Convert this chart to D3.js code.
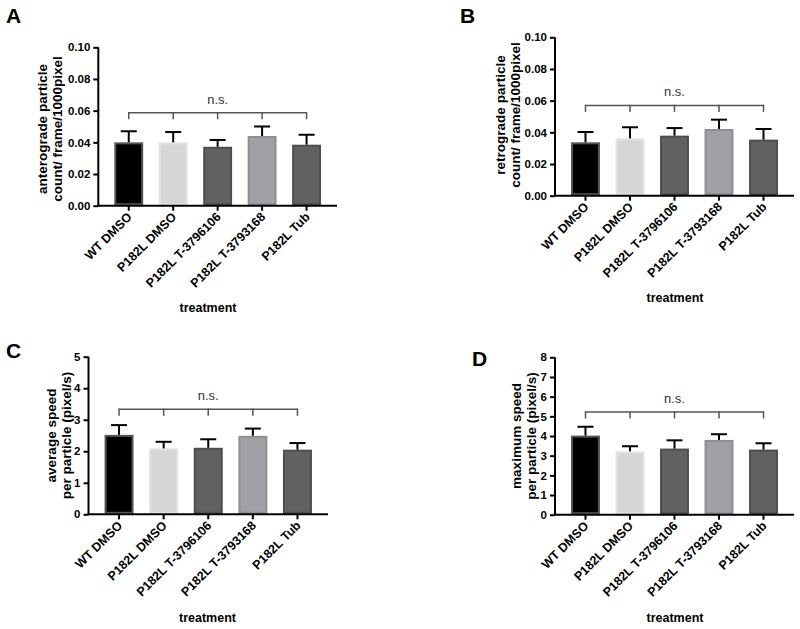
<!DOCTYPE html>
<html>
<head>
<meta charset="utf-8">
<script src="https://cdn.jsdelivr.net/npm/d3@7"></script>
<style>
  body { margin: 0; background: #fff; }
  svg { display: block; font-family: Arial, "Liberation Sans", Helvetica, sans-serif; }
</style>
</head>
<body>
<svg id="chart" width="800" height="629"></svg>
<script>
// ---------------- data ----------------
const categories = ["WT DMSO", "P182L DMSO", "P182L T-3796106", "P182L T-3793168", "P182L Tub"];

const anterogradeMean = [0.0400, 0.0400, 0.0372, 0.0440, 0.0385];
const anterogradeErr  = [0.0070, 0.0065, 0.0043, 0.0060, 0.0063];

const retrogradeMean  = [0.0337, 0.0362, 0.0379, 0.0421, 0.0354];
const retrogradeErr   = [0.0065, 0.0070, 0.0048, 0.0059, 0.0067];

const avgSpeedMean    = [2.52, 2.09, 2.11, 2.49, 2.05];
const avgSpeedErr     = [0.31, 0.21, 0.27, 0.23, 0.21];

const maxSpeedMean    = [4.02, 3.22, 3.36, 3.80, 3.31];
const maxSpeedErr     = [0.45, 0.26, 0.42, 0.29, 0.32];

const countTicks = [0, 0.02, 0.04, 0.06, 0.08, 0.10];
const avgTicks   = [0, 1, 2, 3, 4, 5];
const maxTicks   = [0, 1, 2, 3, 4, 5, 6, 7, 8];

const bracketLevels = [0.0587, 0.0570, 3.33, 5.22];
const sigLabel = "n.s.";
const xAxisTitle = "treatment";

// ---------------- styles ----------------
const barFill   = ["#000000", "#d6d6d6", "#616161", "#a0a0a5", "#616161"];
const barStroke = ["#555555", "#e2e2e2", "#4e4e4e", "#8e8e93", "#4e4e4e"];

const panels = [
  { letter: "A", lx: 6, ly: 23, x0: 98.3, x1: 337, yTop: 47.3, yBot: 205.7, domain: [0, 0.1],
    ticks: countTicks, fmt: d3.format(".2f"), mean: anterogradeMean, err: anterogradeErr,
    ylab: ["anterograde particle", "count/ frame/1000pixel"], yl1: -51, yl2: -36, ym: 129,
    bracket: bracketLevels[0], tx: 208, ty: 312 },
  { letter: "B", lx: 460, ly: 23, x0: 555, x1: 794, yTop: 37.3, yBot: 195.7, domain: [0, 0.1],
    ticks: countTicks, fmt: d3.format(".2f"), mean: retrogradeMean, err: retrogradeErr,
    ylab: ["retrograde particle", "count/ frame/1000pixel"], yl1: -50, yl2: -35, ym: 115,
    bracket: bracketLevels[1], tx: 675, ty: 302 },
  { letter: "C", lx: 6, ly: 358, x0: 88.5, x1: 328, yTop: 356.7, yBot: 514.3, domain: [0, 5],
    ticks: avgTicks, fmt: d3.format("d"), mean: avgSpeedMean, err: avgSpeedErr,
    ylab: ["average speed", "per particle (pixel/s)"], yl1: -33, yl2: -18, ym: 435.5,
    bracket: bracketLevels[2], tx: 207.5, ty: 622 },
  { letter: "D", lx: 472, ly: 366, x0: 555, x1: 794, yTop: 357.3, yBot: 514.7, domain: [0, 8],
    ticks: maxTicks, fmt: d3.format("d"), mean: maxSpeedMean, err: maxSpeedErr,
    ylab: ["maximum speed", "per particle (pixel/s)"], yl1: -34, yl2: -19, ym: 436,
    bracket: bracketLevels[3], tx: 675, ty: 622 }
];

const svg = d3.select("#chart");

panels.forEach(p => {
  const g = svg.append("g");

  const x = d3.scaleBand().domain(categories).range([p.x0, p.x1])
    .paddingInner(0.35).paddingOuter(0.36);
  const y = d3.scaleLinear().domain(p.domain).range([p.yBot, p.yTop]);

  const rows = categories.map((c, i) => ({ c, i, m: p.mean[i], e: p.err[i] }));

  // panel letter
  g.append("text").attr("x", p.lx).attr("y", p.ly)
    .attr("font-size", 21).attr("font-weight", "bold").attr("fill", "#000").text(p.letter);

  // bars
  g.selectAll("rect.bar").data(rows).enter().append("rect")
    .attr("class", "bar")
    .attr("x", d => x(d.c) + 1)
    .attr("width", x.bandwidth() - 2)
    .attr("y", d => y(d.m) + 1)
    .attr("height", d => y(0) - y(d.m) - 2.5)
    .attr("fill", d => barFill[d.i])
    .attr("stroke", d => barStroke[d.i])
    .attr("stroke-width", 2);

  // error bars (upper only)
  const cap = 8;
  g.selectAll("line.err").data(rows).enter().append("line")
    .attr("x1", d => x(d.c) + x.bandwidth() / 2)
    .attr("x2", d => x(d.c) + x.bandwidth() / 2)
    .attr("y1", d => y(d.m))
    .attr("y2", d => y(d.m + d.e))
    .attr("stroke", "#000").attr("stroke-width", 2);
  g.selectAll("line.cap").data(rows).enter().append("line")
    .attr("x1", d => x(d.c) + x.bandwidth() / 2 - cap)
    .attr("x2", d => x(d.c) + x.bandwidth() / 2 + cap)
    .attr("y1", d => y(d.m + d.e))
    .attr("y2", d => y(d.m + d.e))
    .attr("stroke", "#000").attr("stroke-width", 2);

  // y axis
  const yAxis = g.append("g").attr("transform", `translate(${p.x0},0)`)
    .call(d3.axisLeft(y).tickValues(p.ticks).tickFormat(p.fmt).tickSize(5).tickPadding(3));
  yAxis.select(".domain").attr("stroke", "#000").attr("stroke-width", 2)
    .attr("d", `M0,${p.yTop}V${p.yBot}`);
  yAxis.selectAll(".tick line").attr("stroke", "#000").attr("stroke-width", 2);
  yAxis.selectAll(".tick text").attr("font-size", 11.5).attr("font-weight", "bold")
    .attr("fill", "#000").attr("font-family", "Arial, 'Liberation Sans', sans-serif");

  // x axis
  const xAxis = g.append("g").attr("transform", `translate(0,${p.yBot})`)
    .call(d3.axisBottom(x).tickSize(5).tickSizeOuter(0).tickFormat(""));
  xAxis.select(".domain").attr("stroke", "#000").attr("stroke-width", 2)
    .attr("d", `M${p.x0 - 1},0H${p.x1}`);
  xAxis.selectAll(".tick line").attr("stroke", "#000").attr("stroke-width", 2);

  // rotated x labels
  g.selectAll("text.xl").data(categories).enter().append("text")
    .attr("transform", c => `translate(${x(c) + x.bandwidth() / 2 + 4},${p.yBot + 12}) rotate(-45)`)
    .attr("text-anchor", "end")
    .attr("font-size", 12.5).attr("font-weight", "bold").attr("fill", "#000")
    .text(c => c);

  // x title
  g.append("text").attr("x", p.tx).attr("y", p.ty).attr("text-anchor", "middle")
    .attr("font-size", 12.5).attr("font-weight", "bold").attr("fill", "#000").text(xAxisTitle);

  // y title (two lines)
  [p.ylab[0], p.ylab[1]].forEach((t, k) => {
    g.append("text")
      .attr("transform", `translate(${p.x0 + (k === 0 ? p.yl1 : p.yl2)},${p.ym}) rotate(-90)`)
      .attr("text-anchor", "middle")
      .attr("font-size", 13.5).attr("font-weight", "bold").attr("fill", "#000").text(t);
  });

  // significance bracket
  const cx = categories.map(c => x(c) + x.bandwidth() / 2);
  const by = y(p.bracket);
  const drop = 6.5;
  g.append("line").attr("x1", cx[0]).attr("x2", cx[cx.length - 1])
    .attr("y1", by).attr("y2", by).attr("stroke", "#555").attr("stroke-width", 1.5);
  cx.forEach(v => {
    g.append("line").attr("x1", v).attr("x2", v).attr("y1", by - 0.75).attr("y2", by + drop)
      .attr("stroke", "#555").attr("stroke-width", 1.5);
  });
  g.append("text").attr("x", (cx[0] + cx[cx.length - 1]) / 2).attr("y", by - 9)
    .attr("text-anchor", "middle").attr("font-size", 13).attr("fill", "#333").text(sigLabel);
});
</script>
</body>
</html>
